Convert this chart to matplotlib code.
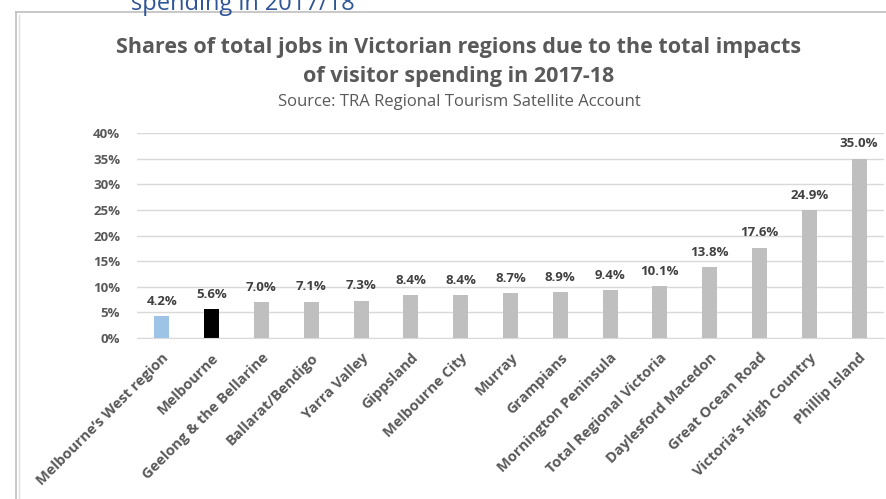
"""Bar chart: shares of total jobs in Victorian regions due to visitor spending."""

import matplotlib.pyplot as plt
from matplotlib.lines import Line2D

regions = [
    "Melbourne\u2019s West region",
    "Melbourne",
    "Geelong & the Bellarine",
    "Ballarat/Bendigo",
    "Yarra Valley",
    "Gippsland",
    "Melbourne City",
    "Murray",
    "Grampians",
    "Mornington Peninsula",
    "Total Regional Victoria",
    "Daylesford Macedon",
    "Great Ocean Road",
    "Victoria\u2019s High Country",
    "Phillip Island",
]
job_share = [4.2, 5.6, 7.0, 7.1, 7.3, 8.4, 8.4, 8.7, 8.9, 9.4, 10.1, 13.8, 17.6, 24.9, 35.0]
bar_colors = ["#9dc3e6", "#000000"] + ["#bfbfbf"] * 13
y_ticks = [0, 5, 10, 15, 20, 25, 30, 35, 40]

plt.rcParams["font.family"] = ["Open Sans", "DejaVu Sans"]

fig = plt.figure(figsize=(8.86, 4.99), dpi=100)
ax = fig.add_axes([0.1546, 0.3226, 0.8431, 0.4108])

x = range(len(regions))
ax.bar(x, job_share, width=0.3, color=bar_colors, zorder=2)
for xi, v in zip(x, job_share):
    ax.annotate(f"{v:.1f}%", (xi, v), xytext=(0, 6), textcoords="offset points",
                ha="center", va="bottom", fontsize=9.5, fontweight="bold",
                color="#404040")

ax.set_xlim(-0.5, len(regions) - 0.5)
ax.set_ylim(0, 40)
ax.set_yticks(y_ticks)
ax.set_yticklabels([f"{t}%" for t in y_ticks], fontsize=9.5, fontweight="bold",
                   color="#595959")
ax.set_xticks(list(x))
ax.set_xticklabels(regions, rotation=45, ha="right", rotation_mode="anchor",
                   fontsize=10.5, fontweight="bold", color="#595959")
ax.tick_params(axis="y", length=0, pad=12)
ax.tick_params(axis="x", length=0, pad=9)
ax.grid(axis="y", color="#d9d9d9", linewidth=1, zorder=0)
for side in ["top", "right", "left"]:
    ax.spines[side].set_visible(False)
ax.spines["bottom"].set_color("#d9d9d9")

fig.text(0.518, 0.905, "Shares of total jobs in Victorian regions due to the total impacts",
         ha="center", va="center", fontsize=15.5, fontweight="bold", color="#595959")
fig.text(0.518, 0.846, "of visitor spending in 2017-18",
         ha="center", va="center", fontsize=15.5, fontweight="bold", color="#595959")
fig.text(0.518, 0.796, "Source: TRA Regional Tourism Satellite Account",
         ha="center", va="center", fontsize=12, color="#595959")

# heading above the chart box, cut off by the top edge
fig.text(0.274, 0.992, "spending in 2017/18", ha="center", va="center",
         fontsize=17, color="#2f5597")

# chart box border
fig.add_artist(Line2D([16 / 886, 1], [1 - 12 / 499] * 2, color="#bfbfbf", linewidth=1.2))
fig.add_artist(Line2D([16 / 886] * 2, [0, 1 - 12 / 499], color="#bfbfbf", linewidth=1.2))
fig.add_artist(Line2D([19 / 886] * 2, [0, 1 - 15 / 499], color="#e0e0e0", linewidth=1))

fig.savefig("out.png", dpi=100)
